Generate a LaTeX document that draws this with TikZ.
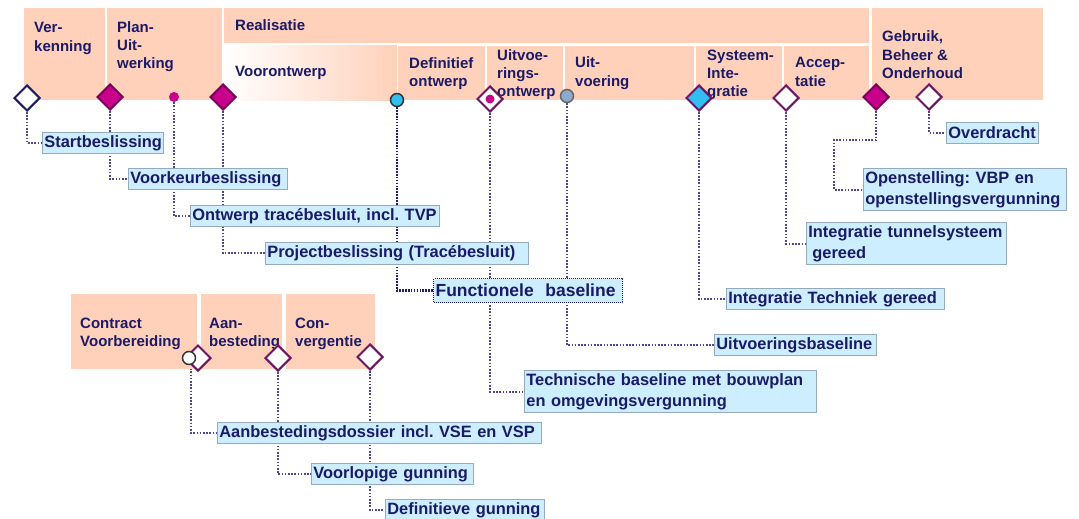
\documentclass[tikz,border=0pt]{standalone}
\usepackage{fontspec}
\setmainfont{Liberation Sans}
\usetikzlibrary{shapes.geometric,backgrounds}
\frenchspacing
\hyphenpenalty=10000
\exhyphenpenalty=10000

\definecolor{peach}{RGB}{255,209,186}
\definecolor{navy}{RGB}{26,26,102}
\definecolor{lblfill}{RGB}{204,238,255}
\definecolor{lblline}{RGB}{150,170,190}
\definecolor{connc}{RGB}{75,70,150}
\definecolor{funcc}{RGB}{30,30,110}
\definecolor{magfill}{RGB}{200,0,140}
\definecolor{magline}{RGB}{120,0,90}
\definecolor{purline}{RGB}{110,20,100}
\definecolor{cyanfill}{RGB}{50,190,240}
\definecolor{greyblue}{RGB}{140,170,205}

\tikzset{
  phase/.style={fill=peach, draw=none},
  % base of a multi-line phase name is its last line
  ptxt/.style={anchor=base west, inner sep=0pt, align=left, text=navy,
    font=\fontsize{15}{18.3}\selectfont\bfseries},
  lbl/.style={draw=lblline, fill=lblfill, line width=0.8pt, anchor=north west,
    inner xsep=2pt, inner ysep=3pt, minimum height=21pt, align=left, text=navy,
    font=\fontsize{16.4}{21}\selectfont\bfseries},
  funcbox/.style={lbl, draw=funcc, line width=1.2pt, dash pattern=on 1pt off 1pt,
    minimum height=24pt, font=\fontsize{17.5}{21}\selectfont\bfseries},
  conn/.style={draw=connc, line width=1.9pt, dash pattern=on 1.6pt off 1.6pt},
  funcconn/.style={draw=funcc, line width=2.4pt, dash pattern=on 1.6pt off 1.3pt},
  wdia/.style={diamond, draw=purline, fill=white, line width=2pt, inner sep=0pt, minimum size=26pt},
  ndia/.style={wdia, draw=navy},
  mdia/.style={wdia, draw=magline, fill=magfill},
  cdia/.style={wdia, fill=cyanfill},
  mdot/.style={circle, fill=magfill, inner sep=0pt, minimum size=10pt},
  cdot/.style={circle, draw=black!80, fill=cyanfill, line width=1.5pt, inner sep=0pt, minimum size=13pt},
  gdot/.style={cdot, draw=black!60, fill=greyblue},
  wdot/.style={cdot, draw=black!80, fill=white}
}

\begin{document}
\begin{tikzpicture}[x=1pt,y=-1pt]
\useasboundingbox (0,0) rectangle (1079,519);

% Drawing phases top bar
\fill[phase] (24,8) rectangle (105,100);%
\fill[phase] (107,8) rectangle (222,100);%
\fill[phase] (224,8) rectangle (869,43);%
\shade[left color=white, right color=peach] (224,46) rectangle (397,100);%
\fill[phase] (398,46) rectangle (485,100);%
\fill[phase] (487,46) rectangle (563,100);%
\fill[phase] (565,46) rectangle (694,100);%
\fill[phase] (696,46) rectangle (782,100);%
\fill[phase] (784,46) rectangle (869,100);%
\fill[phase] (872,8) rectangle (1043,100);%

% Drawing phases contract
\fill[phase] (71,294) rectangle (197,369);%
\fill[phase] (201,294) rectangle (282,369);%
\fill[phase] (286,294) rectangle (375,369);%

% Phase names
\node[ptxt] (tVerk) at (34,51.3) {Ver-\\kenning};%
\node[ptxt] (tPlan) at (117,69) {Plan-\\Uit-\\werking};%
\node[ptxt] (tReal) at (235,31) {Realisatie};%
\node[ptxt] (tVoor) at (235,77) {Voorontwerp};%
\node[ptxt] (tDefi) at (409,86.5) {Definitief\\ontwerp};%
\node[ptxt] (tUont) at (497,96.6) {Uitvoe-\\rings-\\ontwerp};%
\node[ptxt] (tUitv) at (575,86.3) {Uit-\\voering};%
\node[ptxt] (tSyst) at (707,96.6) {Systeem-\\Inte-\\gratie};%
\node[ptxt] (tAcce) at (795,86.3) {Accep-\\tatie};%
\node[ptxt] (tGebr) at (882,78.5) {Gebruik,\\Beheer \&\\Onderhoud};%
\node[ptxt] (tCont) at (80,346.5) {Contract\\Voorbereiding};%
\node[ptxt] (tAanb) at (209,346.5) {Aan-\\besteding};%
\node[ptxt] (tConv) at (295,346.5) {Con-\\vergentie};%

% Marking milestones
\node[ndia] (mStart) at (27,98) {};%
\node[mdia] (mVoork) at (110,97) {};%
\node[mdot] (mOntw) at (174,97) {};%
\node[mdia] (mProj) at (223,97) {};%
\node[cdot] (mFunc) at (397,100) {};%
\node[wdia] (mTech) at (490,99) {};%
\fill[magfill] (mTech.center) circle (4.5);%
\node[gdot] (mUitv) at (567,96) {};%
\node[cdia] (mSyst) at (699,98) {};%
\node[wdia] (mAcce) at (786,98) {};%
\node[mdia] (mOpen) at (876,97) {};%
\node[wdia] (mOver) at (929,97) {};%
\node[wdia] (mCont) at (198,358) {};%
\node[wdot] (mCirc) at (189,358) {};%
\node[wdia] (mAanb) at (278,358) {};%
\node[wdia] (mConv) at (370,357) {};%

% Milestone labels
\node[lbl, text width=117pt] (lStart) at (42,132) {Startbeslissing};%
\node[lbl, text width=155pt] (lVoork) at (128,168) {Voorkeurbeslissing};%
\node[lbl, text width=245pt] (lOntw) at (190,205) {Ontwerp tracébesluit, incl. TVP};%
\node[lbl, text width=259pt] (lProj) at (265,242) {Projectbeslissing (Tracébesluit)};%
\node[funcbox, text width=185pt] (lFunc) at (433,278) {Functionele\ \ baseline};%
\node[lbl, text width=88pt] (lOver) at (946,122) {Overdracht};%
\node[lbl, text width=199pt] (lOpen) at (863,168) {Openstelling: VBP en\\openstellingsvergunning};%
\node[lbl, text width=196pt] (lTunn) at (806,222) {Integratie tunnelsysteem\\\hspace*{4pt}gereed};%
\node[lbl, text width=214pt] (lTecg) at (726,288) {Integratie Techniek gereed};%
\node[lbl, text width=158pt] (lUitv) at (714,334) {Uitvoeringsbaseline};%
\node[lbl, text width=288pt] (lTech) at (524,370) {Technische baseline met bouwplan\\en omgevingsvergunning};%
\node[lbl, text width=320pt] (lAanb) at (217,422) {Aanbestedingsdossier incl. VSE en VSP};%
\node[lbl, text width=158pt] (lVoorl) at (311,463) {Voorlopige gunning};%
\node[lbl, text width=155pt] (lDef) at (385,499) {Definitieve gunning};%

\coordinate (kOpen) at (834,140);%

% Drawing connectors
\begin{scope}[on background layer]
\draw[conn] (mStart.south) |- (lStart.west);%
\draw[conn] (mVoork.south) |- (lVoork.west);%
\draw[conn] (mOntw.south) |- (lOntw.west);%
\draw[conn] (mProj.south) |- (lProj.west);%
\draw[funcconn] (mFunc.south) |- (lFunc.west);%
\draw[conn] (mTech.south) |- (lTech.west);%
\draw[conn] (mUitv.south) |- (lUitv.west);%
\draw[conn] (mSyst.south) |- (lTecg.west);%
\draw[conn] (mAcce.south) |- (lTunn.west);%
\draw[conn] (mOpen.south) |- (kOpen) |- (lOpen.west);%
\draw[conn] (mOver.south) |- (lOver.west);%
\draw[conn] (mCont.south west) |- (lAanb.west);%
\draw[conn] (mAanb.south) |- (lVoorl.west);%
\draw[conn] (mConv.south) |- (lDef.west);%
\end{scope}
\end{tikzpicture}
\end{document}
